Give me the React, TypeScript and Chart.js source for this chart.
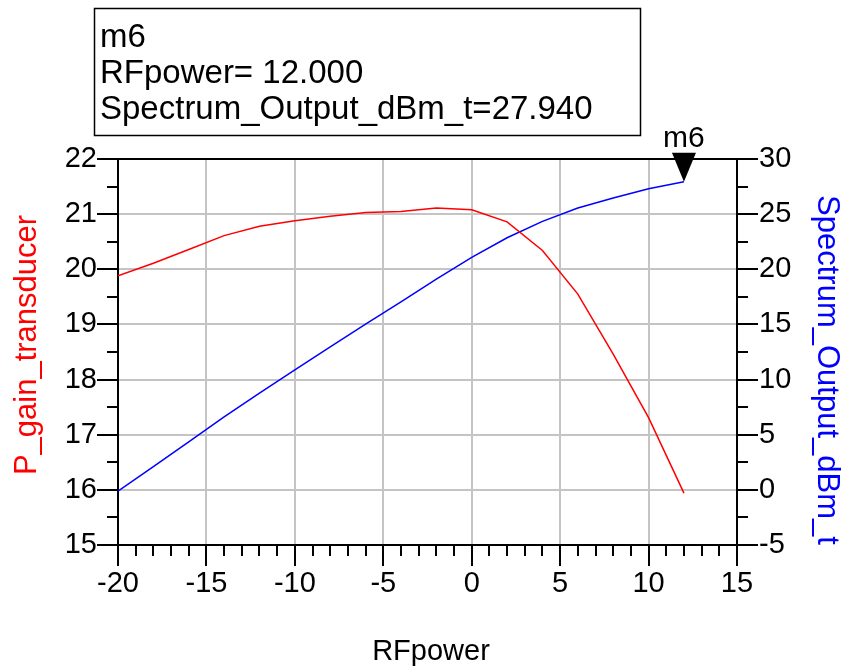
import React, { useEffect, useRef } from "react";
import { Chart, registerables } from "chart.js";

Chart.register(...registerables);

// ---- data ----
const rfPower = [-20, -18, -16, -14, -12, -10, -8, -6, -4, -2, 0, 2, 4, 6, 8, 10, 12];
const gainValues = [19.88, 20.11, 20.36, 20.61, 20.78, 20.88, 20.96, 21.03, 21.05, 21.11, 21.08, 20.86, 20.34, 19.55, 18.46, 17.31, 15.94];
const outputValues = [-0.12, 2.11, 4.36, 6.61, 8.78, 10.88, 12.96, 15.03, 17.05, 19.11, 21.08, 22.86, 24.34, 25.55, 26.46, 27.31, 27.94];

const xTickLabels = [-20, -15, -10, -5, 0, 5, 10, 15];
const yLeftTickLabels = [15, 16, 17, 18, 19, 20, 21, 22];
const yRightTickLabels = [-5, 0, 5, 10, 15, 20, 25, 30];
const xMinorTicks = [-19, -18, -17, -16, -14, -13, -12, -11, -9, -8, -7, -6, -4, -3, -2, -1, 1, 2, 3, 4, 6, 7, 8, 9, 11, 12, 13, 14];
const yLeftMinorTicks = [15.5, 16.5, 17.5, 18.5, 19.5, 20.5, 21.5];
const yRightMinorTicks = [-2.5, 2.5, 7.5, 12.5, 17.5, 22.5, 27.5];

const markerName = "m6";
const markerX = 12;
const markerY = 27.94;
const annotationLines = ["m6", "RFpower= 12.000", "Spectrum_Output_dBm_t=27.940"];

const xTitle = "RFpower";
const yLeftTitle = "P_gain_transducer";
const yRightTitle = "Spectrum_Output_dBm_t";

const FONT = "'Liberation Sans', Arial, Helvetica, sans-serif";

const overlayPlugin = {
  id: "overlay",
  afterDraw(chart: any) {
    const { ctx, chartArea: ca, scales } = chart;
    const xs = scales.x, yl = scales.y, yr = scales.y1;
    ctx.save();
    ctx.strokeStyle = "#000";
    ctx.lineWidth = 2;
    // top border
    ctx.beginPath();
    ctx.moveTo(ca.left - 1, ca.top);
    ctx.lineTo(ca.right + 1, ca.top);
    ctx.stroke();
    // minor ticks
    ctx.beginPath();
    xMinorTicks.forEach((v) => {
      const px = Math.round(xs.getPixelForValue(v));
      ctx.moveTo(px, ca.bottom);
      ctx.lineTo(px, ca.bottom + 11);
    });
    yLeftMinorTicks.forEach((v) => {
      const py = Math.round(yl.getPixelForValue(v));
      ctx.moveTo(ca.left, py);
      ctx.lineTo(ca.left - 11, py);
    });
    yRightMinorTicks.forEach((v) => {
      const py = Math.round(yr.getPixelForValue(v));
      ctx.moveTo(ca.right, py);
      ctx.lineTo(ca.right + 11, py);
    });
    ctx.stroke();

    // marker triangle
    const mx = xs.getPixelForValue(markerX);
    const my = yr.getPixelForValue(markerY);
    ctx.fillStyle = "#000";
    ctx.beginPath();
    ctx.moveTo(mx - 12, my - 29);
    ctx.lineTo(mx + 12, my - 29);
    ctx.lineTo(mx, my);
    ctx.closePath();
    ctx.fill();
    ctx.font = `30px ${FONT}`;
    ctx.textAlign = "center";
    ctx.textBaseline = "alphabetic";
    ctx.fillText(markerName, mx, my - 35);

    // annotation box
    ctx.lineWidth = 1.5;
    ctx.strokeRect(94.5, 8.5, 546, 127);
    ctx.font = `33px ${FONT}`;
    ctx.textAlign = "left";
    const baselines = [47, 83, 119];
    annotationLines.forEach((t, i) => ctx.fillText(t, 100, baselines[i]));

    // axis titles
    ctx.font = `29px ${FONT}`;
    ctx.textAlign = "center";
    ctx.fillStyle = "#000";
    ctx.fillText(xTitle, 431, 660);

    ctx.font = `31px ${FONT}`;
    ctx.fillStyle = "#ff0000";
    ctx.save();
    ctx.translate(36, 345);
    ctx.rotate(-Math.PI / 2);
    ctx.fillText(yLeftTitle, 0, 0);
    ctx.restore();

    ctx.fillStyle = "#0000ff";
    ctx.save();
    ctx.translate(818, 370);
    ctx.rotate(Math.PI / 2);
    ctx.fillText(yRightTitle, 0, 0);
    ctx.restore();

    ctx.restore();
  },
};

export default function App() {
  const ref = useRef<HTMLCanvasElement | null>(null);
  useEffect(() => {
    if (!ref.current) return;
    const gridColor = "#c4c4c4";
    const chart = new Chart(ref.current, {
      type: "line",
      data: {
        datasets: [
          {
            label: yLeftTitle,
            data: rfPower.map((x, i) => ({ x, y: gainValues[i] })),
            borderColor: "#ff0000",
            borderWidth: 1.5,
            pointRadius: 0,
            tension: 0,
            yAxisID: "y",
          },
          {
            label: yRightTitle,
            data: rfPower.map((x, i) => ({ x, y: outputValues[i] })),
            borderColor: "#0000ff",
            borderWidth: 1.5,
            pointRadius: 0,
            tension: 0,
            yAxisID: "y1",
          },
        ],
      },
      options: {
        responsive: false,
        animation: false,
        devicePixelRatio: 1,
        layout: { padding: { top: 159, left: 0, right: 0, bottom: 0 } },
        plugins: { legend: { display: false }, tooltip: { enabled: false } },
        scales: {
          x: {
            type: "linear",
            min: -20,
            max: 15,
            afterFit: (s: any) => { s.height = 671 - 545; },
            afterBuildTicks: (s: any) => { s.ticks = xTickLabels.map((v) => ({ value: v })); },
            ticks: {
              color: "#000",
              font: { family: FONT, size: 29 },
              padding: 1,
              maxRotation: 0,
              autoSkip: false,
              callback: (v: any) => String(v),
            },
            grid: {
              color: (c: any) => (c.tick && (c.tick.value === -20 || c.tick.value === 15) ? "rgba(0,0,0,0)" : gridColor),
              lineWidth: 2,
              drawTicks: true,
              tickLength: 21,
              tickColor: "#000",
              tickWidth: 2,
            },
            border: { display: true, color: "#000", width: 2 },
          },
          y: {
            type: "linear",
            position: "left",
            min: 15,
            max: 22,
            afterFit: (s: any) => { s.width = 118; },
            afterBuildTicks: (s: any) => { s.ticks = yLeftTickLabels.map((v) => ({ value: v })); },
            ticks: {
              color: "#000",
              font: { family: FONT, size: 29 },
              padding: 0,
              autoSkip: false,
              callback: (v: any) => String(v),
            },
            grid: {
              color: (c: any) => (c.tick && (c.tick.value === 15 || c.tick.value === 22) ? "rgba(0,0,0,0)" : gridColor),
              lineWidth: 2,
              drawTicks: true,
              tickLength: 21,
              tickColor: "#000",
              tickWidth: 2,
            },
            border: { display: true, color: "#000", width: 2 },
          },
          y1: {
            type: "linear",
            position: "right",
            min: -5,
            max: 30,
            afterFit: (s: any) => { s.width = 847 - 737; },
            afterBuildTicks: (s: any) => { s.ticks = yRightTickLabels.map((v) => ({ value: v })); },
            ticks: {
              color: "#000",
              font: { family: FONT, size: 29 },
              padding: 1,
              autoSkip: false,
              callback: (v: any) => String(v),
            },
            grid: {
              drawOnChartArea: false,
              drawTicks: true,
              tickLength: 21,
              tickColor: "#000",
              tickWidth: 2,
              lineWidth: 2,
            },
            border: { display: true, color: "#000", width: 2 },
          },
        },
      },
      plugins: [overlayPlugin],
    });
    return () => chart.destroy();
  }, []);

  return (
    <div style={{ position: "fixed", left: 0, top: 0, width: 847, height: 671, background: "#fff" }}>
      <canvas ref={ref} width={847} height={671} style={{ width: 847, height: 671, display: "block" }} />
    </div>
  );
}
